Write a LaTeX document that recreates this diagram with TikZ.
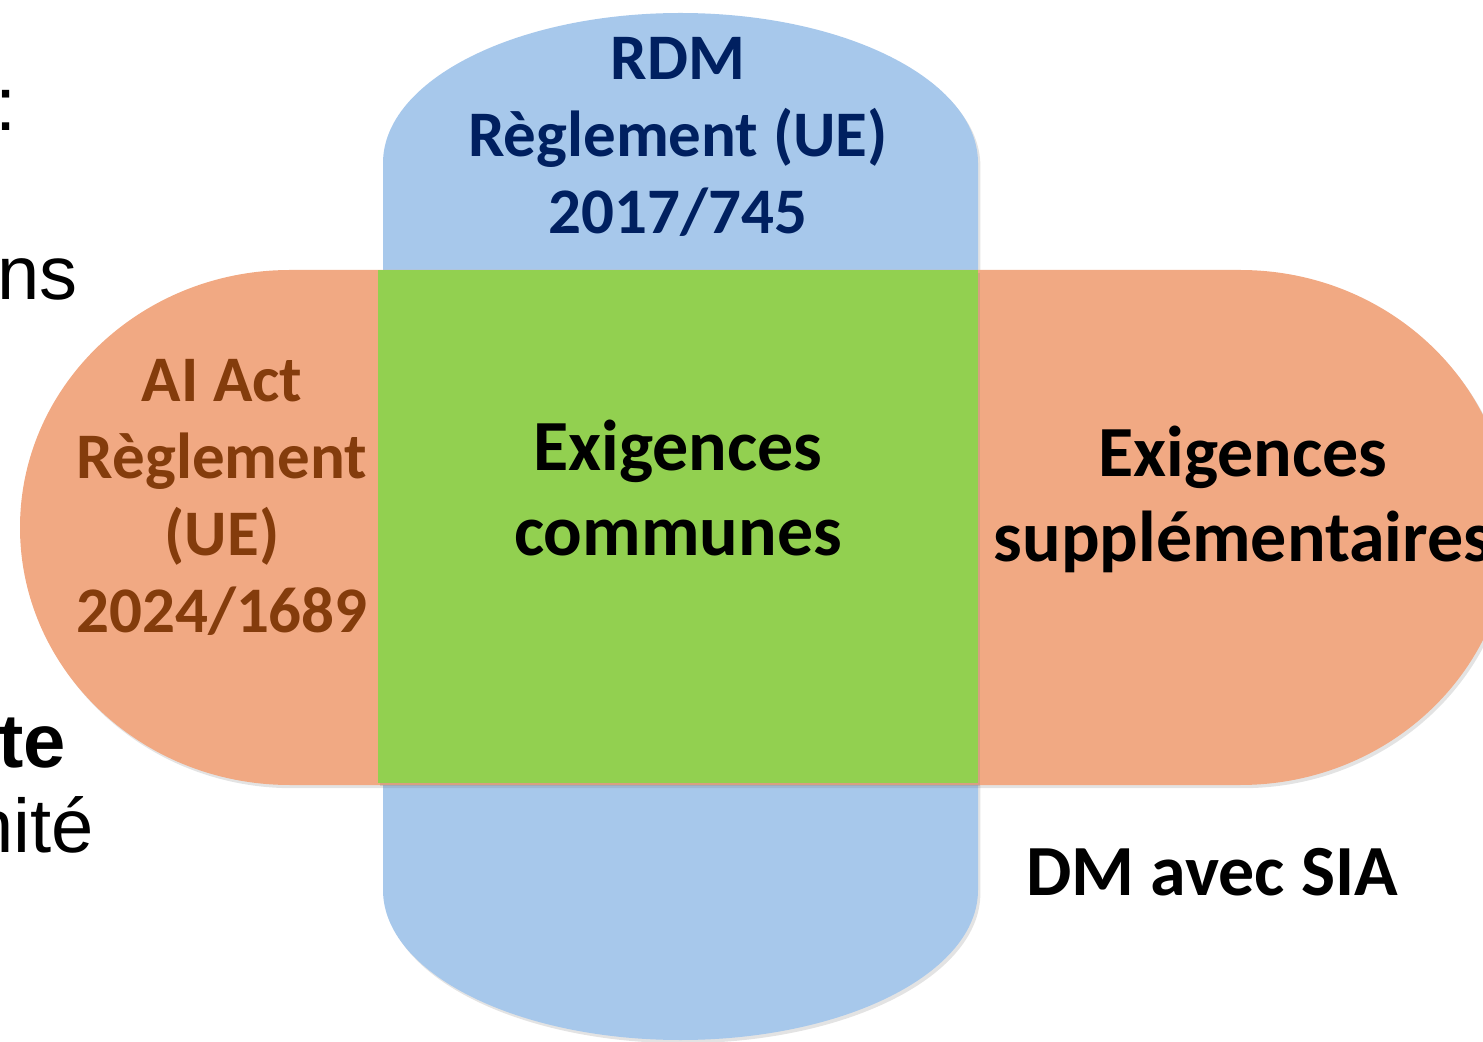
\documentclass[tikz,border=0pt]{standalone}
\usepackage{fontspec}
\setmainfont{Carlito}
\newfontfamily\slidefont{Liberation Sans}
\usetikzlibrary{shadows}

\definecolor{rdmblue}{HTML}{A7C8EB}
\definecolor{aiorange}{HTML}{F1A983}
\definecolor{commongreen}{HTML}{92D050}
\definecolor{rdmtext}{HTML}{002060}
\definecolor{aitext}{HTML}{843C0C}

\begin{document}
\begin{tikzpicture}[
            x=0.5pt, y=-0.5pt,
            align=center,
            blob/.style={drop shadow={opacity=0.22,shadow xshift=1.2pt,shadow yshift=-1.6pt}},
            label/.style={font=\bfseries\fontsize{32.5}{38.5}\selectfont},
            biglabel/.style={font=\bfseries\fontsize{36}{42.5}\selectfont},
            slidetext/.style={font=\slidefont\fontsize{38}{44}\selectfont, anchor=base east, inner sep=0pt},
          ]
          \clip (0,0) rectangle (1483,1042);
          % RDM, vertical
          \fill[rdmblue, blob] (383,163) -- (383,890)
            arc[start angle=180, end angle=0, x radius=297.5, y radius=150]
            -- (978,163)
            arc[start angle=0, end angle=-180, x radius=297.5, y radius=150] -- cycle;
          % AI Act, horizontal
          \fill[aiorange, blob] (290,270) -- (1240,270)
            arc[start angle=-90, end angle=90, x radius=270, y radius=257.5]
            -- (290,785)
            arc[start angle=90, end angle=270, x radius=270, y radius=257.5] -- cycle;
          % common part
          \fill[commongreen, blob] (378,270) rectangle (978,783);

          \node[label, text=rdmtext] (rdm) at (678,137) {RDM\\Règlement (UE)\\2017/745};
          \node[label, text=aitext] (aiact) at (222,497) {AI Act\\Règlement\\(UE)\\2024/1689};
          \node[biglabel] (communes) at (678,488) {Exigences\\communes};
          \node[biglabel] (supp) at (1243,499) {Exigences\\supplémentaires};
          \node[biglabel] (dmsia) at (1212,872) {DM avec SIA};

          % cut text of the slide
          \node[slidetext] (colon) at (17,131) {:};
          \node[slidetext] (ans) at (78,300) {ans};
          \node[slidetext, font=\slidefont\bfseries\fontsize{38}{44}\selectfont] (te) at (66,767) {te};
          \node[slidetext] (nite) at (94,852) {nité};
          \end{tikzpicture}
\end{document}
